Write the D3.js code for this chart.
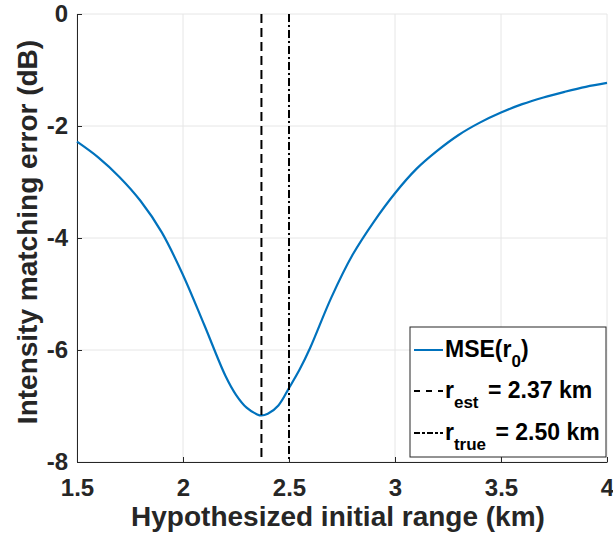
<!DOCTYPE html>
<html>
<head>
<meta charset="utf-8">
<script src="https://cdn.jsdelivr.net/npm/d3@7"></script>
<style>
  body { margin: 0; background: #fff; }
  svg text { font-family: "Liberation Sans", Arial, sans-serif; font-weight: bold; }
</style>
</head>
<body>
<div id="chart"></div>
<script>
// hypothesized initial range (km) and matching error (dB)
const rangeKm = [1.5, 1.6, 1.7, 1.8, 1.9, 2.0, 2.1, 2.2, 2.25, 2.3, 2.35, 2.37, 2.4, 2.45, 2.5, 2.55, 2.6, 2.7, 2.8, 2.9, 3.0, 3.1, 3.2, 3.3, 3.4, 3.5, 3.6, 3.7, 3.8, 3.9, 4.0];
const mseDb = [-2.28, -2.56, -2.91, -3.34, -3.90, -4.66, -5.55, -6.46, -6.80, -7.03, -7.15, -7.17, -7.14, -6.99, -6.68, -6.35, -5.96, -5.06, -4.30, -3.71, -3.20, -2.77, -2.44, -2.16, -1.94, -1.76, -1.61, -1.49, -1.39, -1.30, -1.23];

const rEst = 2.37;
const rTrue = 2.50;

const xTicks = [1.5, 2, 2.5, 3, 3.5, 4];
const yTicks = [0, -2, -4, -6, -8];

const margin = { top: 14, right: 6, bottom: 81, left: 77 };
const width = 613 - margin.left - margin.right;
const height = 543 - margin.top - margin.bottom;

const svg = d3.select("#chart")
    .append("svg")
    .attr("width", 613)
    .attr("height", 543)
    .append("g")
    .attr("transform", `translate(${margin.left},${margin.top})`);

const x = d3.scaleLinear().domain([1.5, 4]).range([0, width]);
const y = d3.scaleLinear().domain([-8, 0]).range([height, 0]);

// grid
svg.append("g")
    .selectAll("line")
    .data(xTicks)
    .enter()
    .append("line")
    .attr("x1", d => x(d)).attr("x2", d => x(d))
    .attr("y1", 0).attr("y2", height)
    .attr("stroke", "#e6e6e6").attr("stroke-width", 1);

svg.append("g")
    .selectAll("line")
    .data(yTicks)
    .enter()
    .append("line")
    .attr("x1", 0).attr("x2", width)
    .attr("y1", d => y(d)).attr("y2", d => y(d))
    .attr("stroke", "#e6e6e6").attr("stroke-width", 1);

// axes (plain hyphen for negatives, like the original)
const fmt = d => String(d);

const xAxis = svg.append("g")
    .attr("transform", `translate(0,${height})`)
    .call(d3.axisBottom(x).tickValues(xTicks).tickSizeInner(-5).tickSizeOuter(0).tickPadding(17).tickFormat(fmt));

const yAxis = svg.append("g")
    .call(d3.axisLeft(y).tickValues(yTicks).tickSizeInner(-5).tickSizeOuter(0).tickPadding(9).tickFormat(fmt));

[xAxis, yAxis].forEach(a => {
    a.select(".domain").attr("stroke", "#262626").attr("stroke-width", 1);
    a.selectAll(".tick line").attr("stroke", "#262626");
    a.selectAll(".tick text").attr("fill", "#262626").style("font-size", "24px");
});

// the mse curve
const line = d3.line()
    .x((d, i) => x(rangeKm[i]))
    .y(d => y(d))
    .curve(d3.curveCatmullRom.alpha(0.5));

svg.append("path")
    .datum(mseDb)
    .attr("fill", "none")
    .attr("stroke", "#0072BD")
    .attr("stroke-width", 2.2)
    .attr("d", line);

// vertical markers
svg.append("line")
    .attr("x1", x(rEst)).attr("x2", x(rEst))
    .attr("y1", 0).attr("y2", height)
    .attr("stroke", "#000").attr("stroke-width", 2)
    .attr("stroke-dasharray", "9,5");

svg.append("line")
    .attr("x1", x(rTrue)).attr("x2", x(rTrue))
    .attr("y1", 0).attr("y2", height)
    .attr("stroke", "#000").attr("stroke-width", 2)
    .attr("stroke-dasharray", "8,3,2,3");

// axis labels
svg.append("text")
    .attr("x", 261)
    .attr("y", height + 64)
    .attr("text-anchor", "middle")
    .attr("fill", "#262626")
    .style("font-size", "28px")
    .text("Hypothesized initial range (km)");

svg.append("text")
    .attr("transform", `translate(${-40},${218}) rotate(-90)`)
    .attr("text-anchor", "middle")
    .attr("fill", "#262626")
    .style("font-size", "28px")
    .text("Intensity matching error (dB)");

// legend
const legend = svg.append("g")
    .attr("transform", `translate(${333},${313})`);

legend.append("rect")
    .attr("x", 0).attr("y", 0)
    .attr("width", 196).attr("height", 130)
    .attr("fill", "#fff")
    .attr("stroke", "#262626").attr("stroke-width", 1);

const rows = [
    { dash: null, color: "#0072BD", main: "MSE(r", sub: "0", tail: ")", cy: 23 },
    { dash: "6,6", color: "#000", main: "r", sub: "est", tail: " = 2.37 km", cy: 64 },
    { dash: "6,2,3,2", color: "#000", main: "r", sub: "true", tail: " = 2.50 km", cy: 106 }
];

rows.forEach(r => {
    legend.append("line")
        .attr("x1", 4).attr("x2", 33)
        .attr("y1", r.cy).attr("y2", r.cy)
        .attr("stroke", r.color).attr("stroke-width", 2)
        .attr("stroke-dasharray", r.dash);
    const t = legend.append("text")
        .attr("x", 35)
        .attr("y", r.cy + 7)
        .attr("fill", "#000")
        .style("font-size", "23px");
    t.append("tspan").text(r.main);
    t.append("tspan").attr("dy", 10).style("font-size", "17px").text(r.sub);
    t.append("tspan").attr("dy", -10).attr("dx", r.tail.length > 1 ? 3 : 0).text(r.tail);
});
</script>
</body>
</html>
